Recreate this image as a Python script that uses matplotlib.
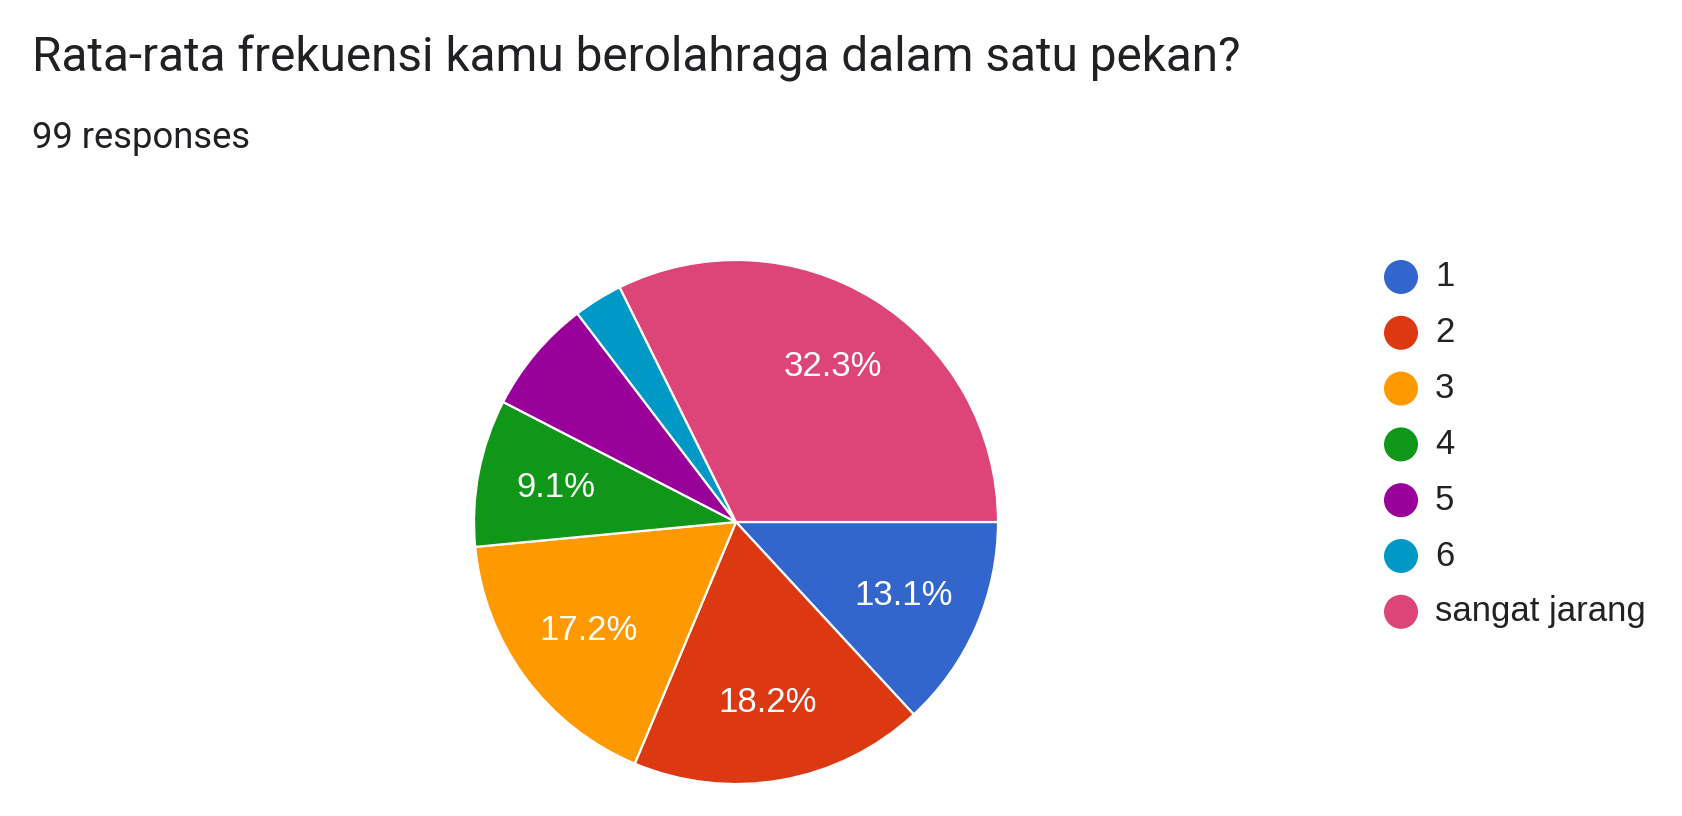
import matplotlib
matplotlib.use("Agg")
import matplotlib.pyplot as plt

title = "Rata-rata frekuensi kamu berolahraga dalam satu pekan?"
subtitle = "99 responses"
categories = ["1", "2", "3", "4", "5", "6", "sangat jarang"]
counts = [13, 18, 17, 9, 7, 3, 32]
colors = ["#3366cc", "#dc3912", "#ff9900", "#109618", "#990099", "#0099c6", "#dd4477"]

W, H = 1682, 816
fig = plt.figure(figsize=(W / 100, H / 100), dpi=100)
fig.patch.set_facecolor("white")

# overlay axes in pixel coordinates for text and legend
ov = fig.add_axes([0, 0, 1, 1])
ov.set_xlim(0, W)
ov.set_ylim(H, 0)
ov.axis("off")

ov.text(32, 71, title, fontsize=34.4, family="Roboto", color="#202124", va="baseline", ha="left")
ov.text(32, 148, subtitle, fontsize=26.2, family="Roboto", color="#202124", va="baseline", ha="left")

# pie
cx, cy, r = 736, 522, 262
pax = fig.add_axes([(cx - r) / W, (H - cy - r) / H, 2 * r / W, 2 * r / H])

def fmt(p):
    return f"{p:.1f}%" if p >= 8 else ""

wedges, texts, autotexts = pax.pie(
    counts, colors=colors, startangle=0, counterclock=False,
    autopct=fmt, pctdistance=0.7,
    wedgeprops=dict(edgecolor="white", linewidth=1.6),
    textprops=dict(color="white", fontsize=25, family="Liberation Sans"),
)
pax.set_xlim(-1, 1)
pax.set_ylim(-1, 1)
pax.set_aspect("equal")
pax.axis("off")

# legend
lx, ly0, dy = 1401, 277, 55.8
for i, (cat, col) in enumerate(zip(categories, colors)):
    y = ly0 + i * dy
    ov.scatter([lx], [y], s=(34 * 0.72) ** 2, color=col, edgecolors="none")
    ov.text(1435, y, cat, fontsize=25, family="Liberation Sans", color="#222222", va="center", ha="left")

fig.savefig("out.png", dpi=100, facecolor="white")
